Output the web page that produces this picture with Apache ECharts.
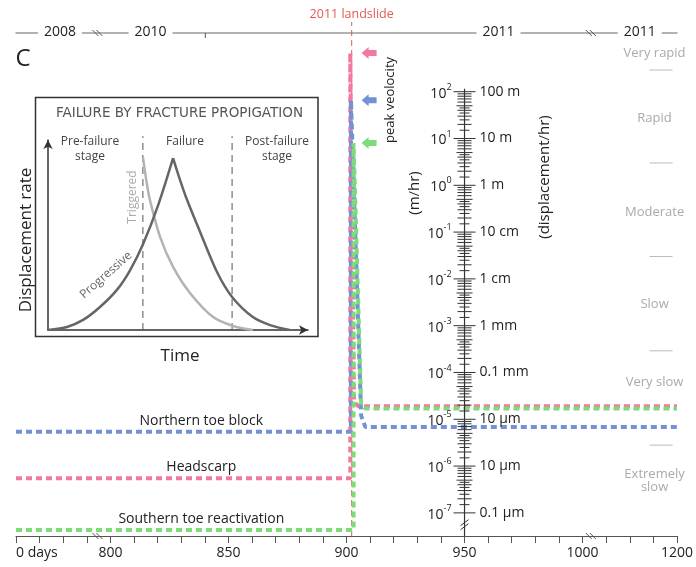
<!DOCTYPE html>
<html>
<head>
<meta charset="utf-8">
<script src="https://cdn.jsdelivr.net/npm/echarts@6/dist/echarts.min.js"></script>
<style>
  html, body { margin: 0; padding: 0; background: #fff; }
  #chart { width: 696px; height: 567px; }
</style>
</head>
<body>
<div id="chart"></div>
<script>
const FONT = 'Open Sans';

// x axis is in days on a broken scale: 760 is drawn as "0 days", 1040 as "1200"
const dayLabels = { 760: '0 days', 800: '800', 850: '850', 900: '900', 950: '950', 1000: '1000', 1040: '1200' };
const axisBreakDays = [794.5, 1003.5];
const landslideDay = 902.2;
const scaleDay = 950;

// displacement rate, m/hr
const northernToe = [[760, 5.4e-6], [901.9, 5.4e-6], [901.9, 66], [906.2, 1.2e-5], [908, 6.8e-6], [1040, 6.8e-6]];
const headscarp = [[760, 5.5e-7], [901.6, 5.5e-7], [901.6, 670], [903.2, 2.4e-5], [905, 1.9e-5], [1040, 1.9e-5]];
const southernToe = [[760, 4.3e-8], [903, 4.3e-8], [903, 8], [906.2, 2.1e-5], [908, 1.7e-5], [1040, 1.7e-5]];
const seriesNames = ['Northern toe block', 'Headscarp', 'Southern toe reactivation'];
const peakRates = [66, 670, 8];

// top timeline
const yearLabels = ['2008', '2010', '2011', '2011'];
const yearDays = [778.6, 817, 964.4, 1024.2];
const yearTickDays = [840.2];

// right hand rate scale
const scaleExponents = [2, 1, 0, -1, -2, -3, -4, -5, -6, -7];
const scaleUnits = ['100 m', '10 m', '1 m', '10 cm', '1 cm', '1 mm', '0.1 mm', '10 µm', '10 µm', '0.1 µm'];
const scaleMinor = [1.5, 2, 2.5, 3, 3.5, 4, 4.5, 5, 6, 7, 8, 9];
const scaleBreakRate = 5.6e-8;

// velocity classes
const classNames = ['Very rapid', 'Rapid', 'Moderate', 'Slow', 'Very slow', 'Extremely\nslow'];
const classLabelRates = [670, 27, 0.27, 2.8e-3, 6.3e-5, 4.8e-7];
const classLimits = [2.8e-6, 2.9e-4, 0.03, 3, 290];
const classDay = 1030.5;

// inset: time (0-100) vs displacement rate (0-100), schematic
const progressiveRise = [[0, 0], [7.3, 1.6], [13.5, 5.3], [20, 12.1], [26.5, 21.1], [31.5, 31.3], [36.5, 45], [42.3, 65.5], [48.1, 90.5]];
const progressiveFall = [[48.1, 90.5], [50.8, 78.9], [53.5, 68.4], [58.5, 51.6], [65, 30.5], [70.8, 17.4], [78.8, 6.8], [85.4, 2.6], [93, 0]];
const triggered = [[36.5, 91], [38.1, 76.3], [39.2, 68.4], [43.1, 49], [48.1, 33.2], [54.6, 19.5], [63.5, 6.8], [71.2, 2.1], [78.8, 0]];
const stageBounds = [36.5, 70.8];

const yMin = Math.pow(10, -7.494);
const yMax = Math.pow(10, 3.254);
const colors = ['#7391d4', '#f27aa0', '#7edb7a'];
const zOrder = [4, 3, 5];

function txt(x, y, text, style, rotation) {
  return {
    type: 'text', x: x, y: y, rotation: rotation || 0,
    style: Object.assign({ text: text, fill: '#222', fontFamily: FONT, fontSize: 14, align: 'center', verticalAlign: 'middle' }, style || {})
  };
}
function seg(x1, y1, x2, y2, stroke, w, dash) {
  return { type: 'line', shape: { x1: x1, y1: y1, x2: x2, y2: y2 }, style: { stroke: stroke, lineWidth: w || 1, lineDash: dash || null } };
}

const dotted = (name, data, i) => ({
  name: name, type: 'line', data: data, showSymbol: false, silent: true,
  lineStyle: { color: colors[i], width: 4, type: [6, 4] }, z: zOrder[i]
});
const insetCurve = (data, color) => ({
  type: 'line', xAxisIndex: 2, yAxisIndex: 1, data: data, smooth: 0.3, showSymbol: false, silent: true,
  lineStyle: { color: color, width: 2.5 }
});

const scaleTicks = [];
scaleExponents.forEach(e => {
  scaleTicks.push([Math.pow(10, e), 11]);
  if (e < 2) scaleMinor.forEach(m => scaleTicks.push([m * Math.pow(10, e), m === 5 ? 8 : (m % 1 ? 5 : 7)]));
});

const chart = echarts.init(document.getElementById('chart'));

const option = {
  animation: false,
  grid: [
    { left: 16, right: 16, top: 33, bottom: 31 },
    { left: 48, top: 140, width: 260, height: 190 }
  ],
  xAxis: [
    {
      type: 'value', gridIndex: 0, min: 760, max: 1040, interval: 10,
      axisLine: { lineStyle: { color: '#555', width: 1.2 } },
      axisTick: { length: 7, lineStyle: { color: '#555' } },
      splitLine: { show: false },
      axisLabel: {
        formatter: v => dayLabels[v] || '', color: '#222', fontFamily: FONT, fontSize: 14, margin: 10,
        alignMinLabel: 'left'
      }
    },
    {
      type: 'value', gridIndex: 0, position: 'top', min: 760, max: 1040,
      axisLine: { lineStyle: { color: '#9a9a9a', width: 1.5 } },
      axisTick: { show: false }, axisLabel: { show: false }, splitLine: { show: false }
    },
    {
      type: 'value', gridIndex: 1, min: 0, max: 100,
      axisLine: { symbol: ['none', 'arrow'], symbolSize: [7, 9], lineStyle: { color: '#333', width: 1.5 } },
      axisTick: { show: false }, axisLabel: { show: false }, splitLine: { show: false }
    }
  ],
  yAxis: [
    { type: 'log', logBase: 10, gridIndex: 0, min: yMin, max: yMax, show: false },
    {
      type: 'value', gridIndex: 1, min: 0, max: 100,
      axisLine: { symbol: ['none', 'arrow'], symbolSize: [7, 9], lineStyle: { color: '#333', width: 1.5 } },
      axisTick: { show: false }, axisLabel: { show: false }, splitLine: { show: false }
    }
  ],
  graphic: [
    { type: 'rect', shape: { x: 35.5, y: 97.5, width: 282.5, height: 239 }, style: { fill: 'none', stroke: '#333', lineWidth: 1.5 }, z: 1 },
    txt(179.5, 113, 'FAILURE BY FRACTURE PROPIGATION', { fill: '#555', fontSize: 13.5, fontFamily: 'DejaVu Sans' }),
    txt(90, 142, 'Pre-failure', { fill: '#444', fontSize: 12 }),
    txt(90, 157, 'stage', { fill: '#444', fontSize: 12 }),
    txt(185, 142, 'Failure', { fill: '#444', fontSize: 12 }),
    txt(277, 142, 'Post-failure', { fill: '#444', fontSize: 12 }),
    txt(277, 157, 'stage', { fill: '#444', fontSize: 12 }),
    txt(26, 240, 'Displacement rate', { fontSize: 17 }, Math.PI / 2),
    txt(180, 356, 'Time', { fontSize: 17 }),
    txt(106, 275, 'Progressive', { fill: '#666', fontSize: 12 }, 0.72),
    txt(133, 197, 'Triggered', { fill: '#aaa', fontSize: 12 }, Math.PI / 2),
    txt(23, 59, 'C', { fontSize: 24 }),
    txt(415, 193, '(m/hr)', { fontSize: 15 }, Math.PI / 2),
    txt(545, 177, '(displacement/hr)', { fontSize: 15 }, Math.PI / 2),
    txt(390, 100, 'peak veolocity', { fontSize: 13 }, Math.PI / 2)
  ],
  series: [
    // landslide marker
    {
      type: 'custom', clip: false, silent: true, z: 2, data: [[landslideDay, yMin]],
      renderItem: (p, api) => {
        const b = api.coord([api.value(0), yMin]);
        const t = api.coord([api.value(0), yMax]);
        return { type: 'group', children: [
          seg(b[0], b[1], t[0], t[1] - 11, '#e25a52', 1, [6, 4]),
          txt(t[0], t[1] - 19, '2011 landslide', { fill: '#e25a52', fontSize: 12.5 })
        ] };
      }
    },
    dotted(seriesNames[0], northernToe, 0),
    dotted(seriesNames[1], headscarp, 1),
    dotted(seriesNames[2], southernToe, 2),
    // series names above their pre-failure level
    {
      type: 'custom', clip: false, silent: true, z: 6,
      data: [[838.5, northernToe[0][1]], [838.5, headscarp[0][1]], [838.5, southernToe[0][1]]],
      renderItem: (p, api) => {
        const c = api.coord([api.value(0), api.value(1)]);
        return txt(c[0], c[1] - 11, seriesNames[p.dataIndex], { fontSize: 14 });
      }
    },
    // peak velocity arrows
    {
      type: 'custom', clip: false, silent: true, z: 6,
      data: peakRates.map(v => [906.4, v]),
      renderItem: (p, api) => {
        const c = api.coord([api.value(0), api.value(1)]);
        const pts = [[0, 0], [7, -6], [7, -3], [15, -3], [15, 3], [7, 3], [7, 6]].map(q => [c[0] + q[0], c[1] + q[1]]);
        return { type: 'polygon', shape: { points: pts }, style: { fill: colors[p.dataIndex] } };
      }
    },
    // rate scale: ticks
    {
      type: 'custom', clip: false, silent: true, z: 7, data: scaleTicks,
      renderItem: (p, api) => {
        const c = api.coord([scaleDay, api.value(0)]);
        const h = api.value(1);
        return seg(c[0] - h, c[1], c[0] + h, c[1], '#333', 1);
      }
    },
    // rate scale: axis line and break
    {
      type: 'custom', clip: false, silent: true, z: 7, data: [[scaleDay, 100]],
      renderItem: (p, api) => {
        const t = api.coord([scaleDay, 100]);
        const b = api.coord([scaleDay, yMin]);
        const k = api.coord([scaleDay, scaleBreakRate]);
        return { type: 'group', children: [
          seg(t[0], t[1] - 3, b[0], b[1], '#333', 1.2),
          seg(k[0] - 4, k[1] + 1, k[0] + 4, k[1] - 5, '#333', 1),
          seg(k[0] - 4, k[1] + 5, k[0] + 4, k[1] - 1, '#333', 1)
        ] };
      }
    },
    // rate scale labels
    {
      type: 'custom', clip: false, silent: true, z: 7,
      data: scaleExponents.map(e => [scaleDay, Math.pow(10, e)]),
      renderItem: (p, api) => {
        const c = api.coord([scaleDay, api.value(1)]);
        const e = scaleExponents[p.dataIndex];
        return { type: 'group', children: [
          txt(c[0] - 13, c[1], '{b|10}{s|' + e + '}', {
            align: 'right',
            rich: {
              b: { fontSize: 14, fontFamily: FONT, fill: '#222', lineHeight: 18, verticalAlign: 'bottom' },
              s: { fontSize: 9, fontFamily: FONT, fill: '#222', lineHeight: 18, verticalAlign: 'top', padding: [0, 0, 8, 0] }
            }
          }),
          txt(c[0] + 15, c[1], scaleUnits[p.dataIndex], { align: 'left' })
        ] };
      }
    },
    // top timeline labels and tick
    {
      type: 'custom', clip: false, silent: true, z: 8,
      data: yearDays.map(d => [d, yMax]),
      renderItem: (p, api) => {
        const c = api.coord([api.value(0), yMax]);
        return txt(c[0], c[1] - 1, yearLabels[p.dataIndex], { fontSize: 14, backgroundColor: '#fff', padding: [2, 6] });
      }
    },
    {
      type: 'custom', clip: false, silent: true, z: 8,
      data: yearTickDays.map(d => [d, yMax]),
      renderItem: (p, api) => {
        const c = api.coord([api.value(0), yMax]);
        return seg(c[0], c[1], c[0], c[1] + 5, '#555', 1);
      }
    },
    // axis break marks, top and bottom
    {
      type: 'custom', clip: false, silent: true, z: 8,
      data: axisBreakDays.map(d => [d, yMin]),
      renderItem: (p, api) => {
        const children = [];
        [yMin, yMax].forEach(v => {
          const c = api.coord([api.value(0), v]);
          children.push(seg(c[0] - 5, c[1] - 3, c[0] + 1, c[1] + 3, '#555', 1));
          children.push(seg(c[0] - 1, c[1] - 3, c[0] + 5, c[1] + 3, '#555', 1));
        });
        return { type: 'group', children: children };
      }
    },
    // velocity classes
    {
      type: 'custom', clip: false, silent: true, z: 8,
      data: classLimits.map(v => [classDay, v]),
      renderItem: (p, api) => {
        const c = api.coord([classDay, api.value(1)]);
        return seg(c[0] - 5, c[1], c[0] + 18, c[1], '#bbb', 1);
      }
    },
    {
      type: 'custom', clip: false, silent: true, z: 8,
      data: classLabelRates.map(v => [classDay, v]),
      renderItem: (p, api) => {
        const c = api.coord([classDay, api.value(1)]);
        return txt(c[0], c[1], classNames[p.dataIndex], { fill: '#aaa', fontSize: 13, lineHeight: 13 });
      }
    },
    // inset curves
    insetCurve(triggered, '#b3b3b3'),
    insetCurve(progressiveRise, '#666'),
    insetCurve(progressiveFall, '#666'),
    {
      type: 'custom', xAxisIndex: 2, yAxisIndex: 1, clip: false, silent: true,
      data: stageBounds.map(t => [t, 0]),
      renderItem: (p, api) => {
        const b = api.coord([api.value(0), 0]);
        const t = api.coord([api.value(0), 102]);
        return seg(b[0], b[1], t[0], t[1], '#555', 1, [7, 5]);
      }
    }
  ]
};

chart.setOption(option);
</script>
</body>
</html>
